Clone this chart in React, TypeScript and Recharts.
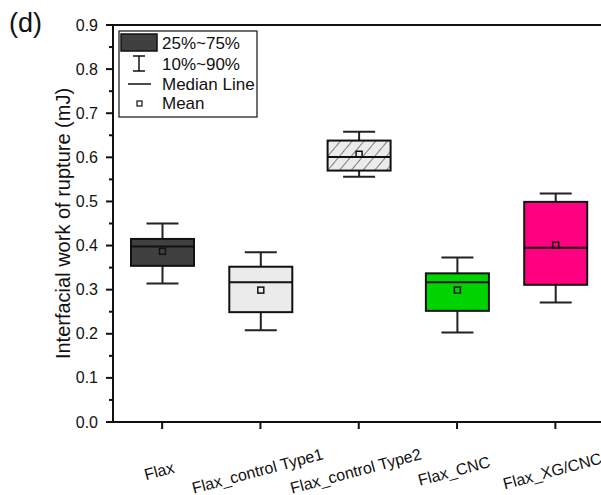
import React from 'react';
import { ComposedChart, Bar, XAxis, YAxis, ReferenceLine, Label } from 'recharts';

const categories = ['Flax', 'Flax_control Type1', 'Flax_control Type2', 'Flax_CNC', 'Flax_XG/CNC'];
const p10 = [0.314, 0.208, 0.556, 0.203, 0.271];
const q1 = [0.354, 0.249, 0.570, 0.252, 0.311];
const median = [0.398, 0.317, 0.601, 0.317, 0.395];
const q3 = [0.415, 0.352, 0.638, 0.337, 0.499];
const p90 = [0.450, 0.385, 0.658, 0.373, 0.518];
const mean = [0.387, 0.299, 0.607, 0.299, 0.401];
const fills = ['#404040', '#ebebeb', 'url(#hatch)', '#00d400', '#ff0080'];

const yTicks = [0, 0.05, 0.1, 0.15, 0.2, 0.25, 0.3, 0.35, 0.4, 0.45, 0.5, 0.55, 0.6, 0.65, 0.7, 0.75, 0.8, 0.85, 0.9];

const FONT = '"Liberation Sans", Arial, sans-serif';

const data = categories.map((name, i) => ({
  name,
  p10: p10[i],
  q1: q1[i],
  median: median[i],
  q3: q3[i],
  p90: p90[i],
  mean: mean[i],
  fill: fills[i],
}));

// box drawn inside the range bar [p10, p90]; other levels scaled off the bar's own pixels
function BoxShape(props: any) {
  const { x, y, width, height, payload } = props;
  const top = Math.min(y, y + height);
  const h = Math.abs(height);
  const py = (v: number) => top + ((payload.p90 - v) / (payload.p90 - payload.p10)) * h;
  const cx = x + width / 2;
  const cap = 16;
  return (
    <g>
      <line x1={cx} x2={cx} y1={py(payload.p90)} y2={py(payload.q3)} stroke="#222" strokeWidth={2} />
      <line x1={cx} x2={cx} y1={py(payload.q1)} y2={py(payload.p10)} stroke="#222" strokeWidth={2} />
      <line x1={cx - cap} x2={cx + cap} y1={py(payload.p90)} y2={py(payload.p90)} stroke="#222" strokeWidth={2} />
      <line x1={cx - cap} x2={cx + cap} y1={py(payload.p10)} y2={py(payload.p10)} stroke="#222" strokeWidth={2} />
      <rect x={x} y={py(payload.q3)} width={width} height={py(payload.q1) - py(payload.q3)} fill={payload.fill} stroke="#111" strokeWidth={2} />
      <line x1={x} x2={x + width} y1={py(payload.median)} y2={py(payload.median)} stroke="#111" strokeWidth={2} />
      <rect x={cx - 3} y={py(payload.mean) - 3} width={6} height={6} fill="none" stroke="#111" strokeWidth={1.5} />
    </g>
  );
}

function YTick(props: any) {
  const { x, y, payload, index } = props;
  const major = index % 2 === 0;
  return (
    <g>
      <line x1={x - (major ? 7 : 4)} x2={x} y1={y} y2={y} stroke="#111" strokeWidth={2} />
      {major && (
        <text x={x - 15} y={y} textAnchor="end" dominantBaseline="central" fontSize={16} fontFamily={FONT} fill="#111">
          {payload.value.toFixed(1)}
        </text>
      )}
    </g>
  );
}

function XTick(props: any) {
  const { x, payload } = props;
  const cx = x - 3;
  const cy = 471;
  return (
    <text
      x={cx}
      y={cy}
      textAnchor="middle"
      dominantBaseline="central"
      fontSize={16}
      fontFamily={FONT}
      fill="#111"
      transform={`rotate(-15, ${cx}, ${cy})`}
    >
      {payload.value}
    </text>
  );
}

function LegendBox() {
  return (
    <svg width={142} height={90} style={{ display: 'block' }}>
      <rect x={1} y={1} width={138} height={86} fill="#fff" stroke="#111" strokeWidth={1.2} />
      <rect x={3} y={4} width={36} height={17} fill="#404040" stroke="#111" strokeWidth={1.5} />
      <text x={44} y={13} fontSize={17} fontFamily={FONT} dominantBaseline="central" fill="#111">25%~75%</text>
      <line x1={21} x2={21} y1={26} y2={41} stroke="#111" strokeWidth={1.5} />
      <line x1={15} x2={27} y1={26} y2={26} stroke="#111" strokeWidth={1.5} />
      <line x1={15} x2={27} y1={41} y2={41} stroke="#111" strokeWidth={1.5} />
      <text x={44} y={34} fontSize={17} fontFamily={FONT} dominantBaseline="central" fill="#111">10%~90%</text>
      <line x1={10} x2={33} y1={54} y2={54} stroke="#111" strokeWidth={1.5} />
      <text x={44} y={54} fontSize={17} fontFamily={FONT} dominantBaseline="central" fill="#111">Median Line</text>
      <rect x={19} y={71} width={5} height={5} fill="none" stroke="#111" strokeWidth={1.2} />
      <text x={44} y={73} fontSize={17} fontFamily={FONT} dominantBaseline="central" fill="#111">Mean</text>
    </svg>
  );
}

export default function App() {
  return (
    <div style={{ position: 'absolute', left: 0, top: 0, width: 601, height: 495, overflow: 'hidden', background: '#fff' }}>
      <div style={{ position: 'absolute', left: 9, top: 7, fontSize: 27, fontFamily: FONT, color: '#111', lineHeight: '32px' }}>(d)</div>
      <ComposedChart width={620} height={495} data={data} margin={{ top: 25, right: 15.5, left: 53, bottom: 13 }}>
        <defs>
          <pattern id="hatch" patternUnits="userSpaceOnUse" width={9} height={9} patternTransform="rotate(40)">
            <rect width={9} height={9} fill="#ebebeb" />
            <line x1={0} y1={0} x2={0} y2={9} stroke="#333" strokeWidth={1.2} />
          </pattern>
        </defs>
        <XAxis
          dataKey="name"
          height={60}
          axisLine={{ stroke: '#111', strokeWidth: 2 }}
          tickLine={{ stroke: '#111', strokeWidth: 2 }}
          tickSize={7}
          tick={<XTick />}
          interval={0}
        />
        <YAxis
          width={60}
          domain={[0, 0.9]}
          ticks={yTicks}
          type="number"
          allowDataOverflow
          axisLine={{ stroke: '#111', strokeWidth: 2 }}
          tickLine={false}
          tickSize={0}
          tickMargin={0}
          tick={<YTick />}
          interval={0}
        >
          <Label
            content={(p: any) => {
              const vb = p.viewBox;
              const lx = vb.x + 10;
              const ly = vb.y + vb.height / 2;
              return (
                <text
                  x={lx}
                  y={ly}
                  textAnchor="middle"
                  dominantBaseline="central"
                  fontSize={20}
                  fontFamily={FONT}
                  fill="#111"
                  transform={`rotate(-90, ${lx}, ${ly})`}
                >
                  Interfacial work of rupture (mJ)
                </text>
              );
            }}
          />
        </YAxis>
        <ReferenceLine y={0.9} stroke="#111" strokeWidth={2} />
        <Bar
          dataKey={(d: any) => [d.p10, d.p90]}
          barSize={63}
          shape={<BoxShape />}
          isAnimationActive={false}
          legendType="none"
        />
      </ComposedChart>
      <div style={{ position: 'absolute', left: 118, top: 30, width: 142, height: 90 }}>
        <LegendBox />
      </div>
    </div>
  );
}
